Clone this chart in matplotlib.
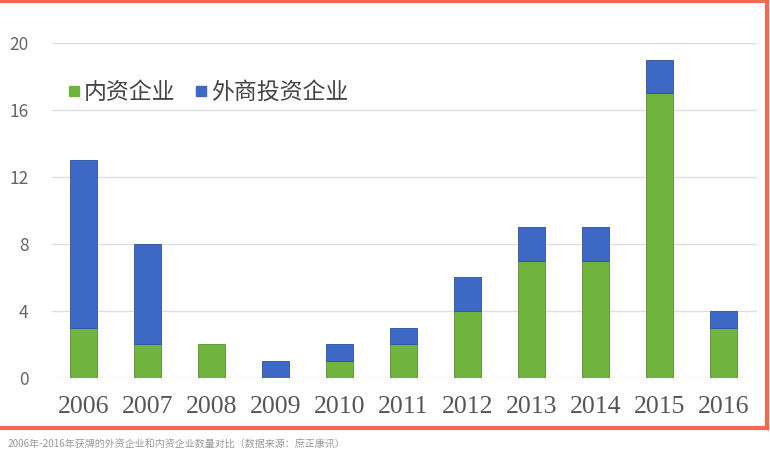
import matplotlib.pyplot as plt
from matplotlib.lines import Line2D
import numpy as np

plt.rcParams['font.family'] = ['Noto Sans CJK SC', 'DejaVu Sans']

years = ['2006', '2007', '2008', '2009', '2010', '2011', '2012', '2013', '2014', '2015', '2016']
domestic = [3, 2, 2, 0, 1, 2, 4, 7, 7, 17, 3]
foreign = [10, 6, 0, 1, 1, 1, 2, 2, 2, 2, 1]
yticks = [0, 4, 8, 12, 16, 20]

green = '#70b43e'
blue = '#3d68c6'

fig = plt.figure(figsize=(7.7, 4.67), dpi=100)
ax = fig.add_axes([0.0675, 0.191, 0.9155, 0.717])

x = np.arange(len(years))
ax.bar(x, domestic, width=0.42, color=green, edgecolor='#5a8f33',
       linewidth=[0.6 if v else 0 for v in domestic], label='内资企业')
ax.bar(x, foreign, width=0.42, bottom=domestic, color=blue, edgecolor='#2f5298',
       linewidth=[0.6 if v else 0 for v in foreign], label='外商投资企业')

ax.set_xlim(-0.49, 10.52)
ax.set_ylim(0, 20)
ax.set_yticks(yticks)
ax.set_xticks(x)
ax.set_xticklabels(years, fontsize=18.5, color='#555555', family='Liberation Serif')
ax.tick_params(axis='y', labelsize=12.5, colors='#666666', length=0, pad=17)
ax.tick_params(axis='x', length=0, pad=13)
ax.grid(axis='y', color='#dddddd', linewidth=1)
ax.set_axisbelow(True)
for s in ax.spines.values():
    s.set_visible(False)

handles = [Line2D([], [], marker='s', color=green, linestyle='', markersize=7),
           Line2D([], [], marker='s', color=blue, linestyle='', markersize=7)]
ax.legend(handles, ['内资企业', '外商投资企业'], loc='upper left', bbox_to_anchor=(0.008, 0.913),
          ncol=2, frameon=False, fontsize=16.5, handlelength=0.6, handletextpad=0.15,
          columnspacing=0.8, labelcolor='#444444', borderaxespad=0)

# red frame: top, right and bottom edges
frame = dict(color='#f26a50', linewidth=3, transform=fig.transFigure, clip_on=False)
fig.add_artist(Line2D([0, 767 / 770], [1 - 1 / 467, 1 - 1 / 467], **frame))
fig.add_artist(Line2D([767 / 770, 767 / 770], [1 - 1 / 467, 1 - 428 / 467], **frame))
fig.add_artist(Line2D([0, 767 / 770], [1 - 428 / 467, 1 - 428 / 467], **frame))

fig.text(8 / 770, 1 - 445 / 467, '2006年-2016年获牌的外资企业和内资企业数量对比（数据来源：庶正康讯）',
         fontsize=7.2, color='#999999', va='center', ha='left')

fig.savefig('out.png', dpi=100)
